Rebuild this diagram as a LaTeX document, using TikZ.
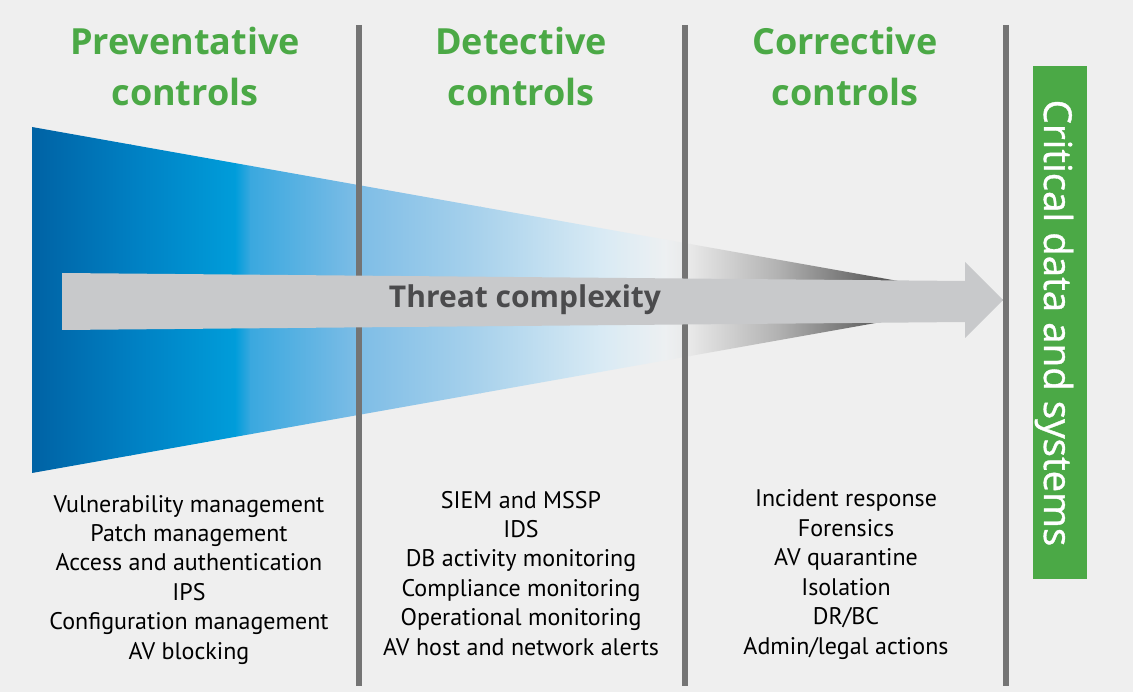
\documentclass[tikz,border=0pt]{standalone}
\usepackage{fontspec}
\setmainfont{Open Sans}
\newfontfamily\bodyfont{PT Sans}
\newfontfamily\headfont{Open Sans}
\newfontfamily\critfont{Open Sans}[FakeBold=0.9]
\definecolor{bg}{HTML}{EFEFEF}
\definecolor{ctrlgreen}{HTML}{4BA946}
\definecolor{divider}{HTML}{747474}
\definecolor{arrowgray}{HTML}{C8C9CB}
\definecolor{threattext}{HTML}{4B4B4D}
\definecolor{bA}{HTML}{0062A4}
\definecolor{bB}{HTML}{007FC2}
\definecolor{bC}{HTML}{009DDA}
\definecolor{bD}{HTML}{3AA8DF}
\definecolor{bE}{HTML}{7EBDE6}
\definecolor{bF}{HTML}{A9D2EC}
\definecolor{bG}{HTML}{D8EAF4}
\definecolor{bH}{HTML}{EDF0F2}
\definecolor{gA}{HTML}{E8E8E8}
\definecolor{gB}{HTML}{B0B0B0}
\definecolor{gC}{HTML}{5A5A5A}
\definecolor{gD}{HTML}{3C3C3C}
\tikzset{
  head/.style={anchor=base, text=ctrlgreen, font=\headfont\bfseries\fontsize{36}{44}\selectfont, inner sep=0pt},
  body/.style={anchor=base, text=black, font=\bodyfont\fontsize{24}{29}\selectfont, inner sep=0pt},
  divline/.style={draw=divider, line width=5.5pt},
}
\begin{document}
\begin{tikzpicture}[x=1pt, y=-1pt]
\fill[bg] (0,0) rectangle (1133,692);
\useasboundingbox (0,0) rectangle (1133,692);
% wedge
\begin{scope}
\clip (32,127) -- (1005,300) -- (32,473) -- cycle;
\shade[left color=bA, right color=bB] (31,120) rectangle (131,480);
\shade[left color=bB, right color=bC] (130,120) rectangle (236,480);
\shade[left color=bC, right color=bD] (235,120) rectangle (251,480);
\shade[left color=bD, right color=bE] (250,120) rectangle (360,480);
\shade[left color=bE, right color=bF] (359,120) rectangle (481,480);
\shade[left color=bF, right color=bG] (480,120) rectangle (601,480);
\shade[left color=bG, right color=bH] (600,120) rectangle (666,480);
\shade[left color=bH, right color=gA] (665,120) rectangle (691,480);
\shade[left color=gA, right color=gB] (690,120) rectangle (781,480);
\shade[left color=gB, right color=gC] (780,120) rectangle (881,480);
\shade[left color=gC, right color=gD] (880,120) rectangle (1006,480);
\end{scope}
% dividers
\coordinate (d1t) at (359,25); \coordinate (d1b) at (359,686);
\coordinate (d2t) at (685,25); \coordinate (d2b) at (685,686);
\coordinate (d3t) at (1006,25); \coordinate (d3b) at (1006,686);
\draw[divline] (d1t) -- (d1b);
\draw[divline] (d2t) -- (d2b);
\draw[divline] (d3t) -- (d3b);
% arrow
\fill[arrowgray] (62,273) -- (965,281) -- (965,262) -- (1003,300) -- (965,338) -- (965,322) -- (62,330) -- cycle;
\node[anchor=base, text=threattext, font=\headfont\bfseries\fontsize{30}{36}\selectfont, inner sep=0pt] (threat) at (525,308) {Threat complexity};
% headings
\node[head] (h1a) at (185,55) {Preventative};
\node[head] (h1b) at (185,106) {controls};
\node[head] (h2a) at (521,55) {Detective};
\node[head] (h2b) at (521,106) {controls};
\node[head] (h3a) at (845,55) {Corrective};
\node[head] (h3b) at (845,106) {controls};
% critical box
\fill[ctrlgreen] (1033,66) rectangle (1087,579);
\node[rotate=-90, anchor=base, text=white, font=\critfont\fontsize{38.5}{46}\selectfont, inner sep=0pt] (critical) at (1044,323) {Critical data and systems};
% lists
\foreach \t [count=\i] in {Vulnerability management, Patch management, Access and authentication, IPS, Configuration management, AV blocking}
  \node[body] (pc\i) at (189,{512+29.4*(\i-1)}) {\t};
\foreach \t [count=\i] in {SIEM and MSSP, IDS, DB activity monitoring, Compliance monitoring, Operational monitoring, AV host and network alerts}
  \node[body] (dc\i) at (521,{508+29.4*(\i-1)}) {\t};
\foreach \t [count=\i] in {Incident response, Forensics, AV quarantine, Isolation, DR/BC, Admin/legal actions}
  \node[body] (cc\i) at (846,{507+29.4*(\i-1)}) {\t};
\end{tikzpicture}
\end{document}
